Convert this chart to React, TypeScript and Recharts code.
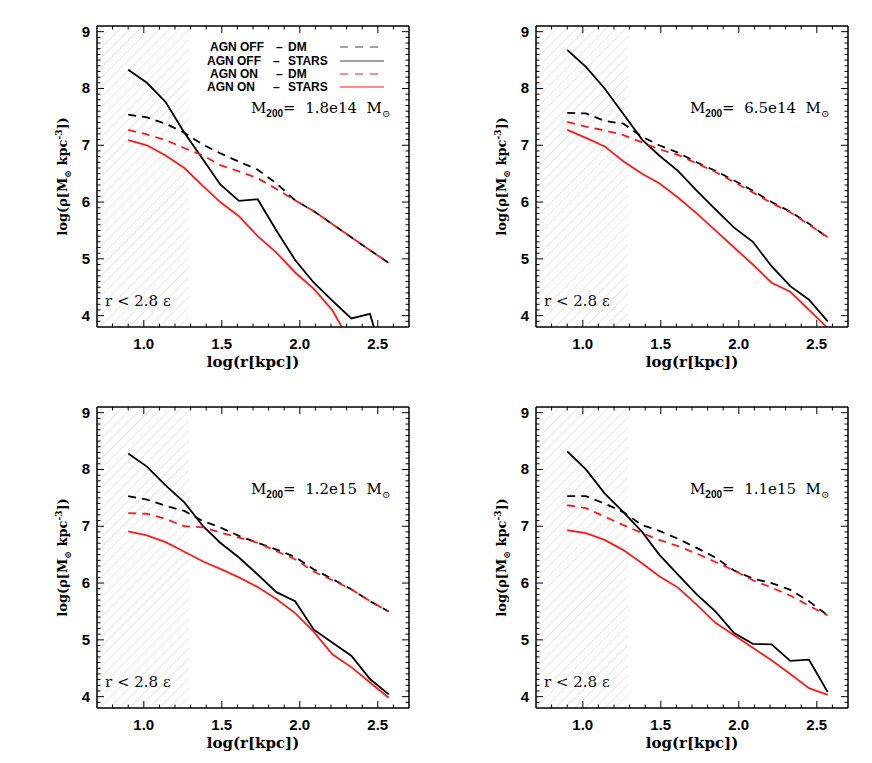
import React from "react";
import { LineChart, Line, XAxis, YAxis, ReferenceArea } from "recharts";

// log radius of the profile bins [log kpc]
const R = [0.9, 1.02, 1.14, 1.26, 1.38, 1.49, 1.61, 1.73, 1.85, 1.97, 2.09, 2.21, 2.33, 2.45, 2.57];

const MASSES = ["1.8e14", "6.5e14", "1.2e15", "1.1e15"];

// AGN OFF - DM
const OFF_DM_1 = [7.54, 7.49, 7.38, 7.22, 7.01, 6.86, 6.71, 6.57, 6.33, 6.03, 5.84, 5.61, 5.38, 5.15, 4.93];
const OFF_DM_2 = [7.57, 7.56, 7.43, 7.38, 7.15, 7.0, 6.87, 6.7, 6.55, 6.38, 6.2, 6.0, 5.83, 5.62, 5.37];
const OFF_DM_3 = [7.53, 7.47, 7.36, 7.27, 7.09, 6.98, 6.83, 6.71, 6.59, 6.46, 6.24, 6.07, 5.89, 5.68, 5.5];
const OFF_DM_4 = [7.53, 7.53, 7.4, 7.25, 7.02, 6.92, 6.78, 6.62, 6.45, 6.22, 6.08, 6.0, 5.88, 5.68, 5.43];

// AGN OFF - STARS
const OFF_STARS_1 = [8.33, 8.1, 7.76, 7.22, 6.75, 6.31, 6.02, 6.05, 5.5, 4.98, 4.58, 4.26, 3.95, 4.03, 2.9];
const OFF_STARS_2 = [8.68, 8.38, 8.0, 7.55, 7.1, 6.82, 6.55, 6.2, 5.87, 5.55, 5.3, 4.87, 4.52, 4.28, 3.9];
const OFF_STARS_3 = [8.28, 8.05, 7.72, 7.42, 7.0, 6.71, 6.45, 6.15, 5.84, 5.68, 5.18, 4.95, 4.72, 4.31, 4.04];
const OFF_STARS_4 = [8.32, 8.0, 7.58, 7.25, 6.9, 6.5, 6.15, 5.8, 5.5, 5.12, 4.93, 4.92, 4.63, 4.65, 4.08];

// AGN ON - DM
const ON_DM_1 = [7.27, 7.19, 7.09, 6.95, 6.82, 6.65, 6.54, 6.42, 6.23, 6.03, 5.84, 5.61, 5.38, 5.15, 4.93];
const ON_DM_2 = [7.41, 7.33, 7.26, 7.18, 7.05, 6.93, 6.83, 6.68, 6.53, 6.35, 6.17, 5.98, 5.82, 5.6, 5.38];
const ON_DM_3 = [7.23, 7.22, 7.13, 7.0, 6.98, 6.89, 6.8, 6.71, 6.56, 6.42, 6.2, 6.05, 5.89, 5.68, 5.5];
const ON_DM_4 = [7.37, 7.32, 7.17, 7.02, 6.88, 6.76, 6.65, 6.52, 6.37, 6.22, 6.05, 5.92, 5.78, 5.6, 5.43];

// AGN ON - STARS
const ON_STARS_1 = [7.09, 7.0, 6.82, 6.6, 6.28, 6.0, 5.75, 5.4, 5.11, 4.76, 4.47, 4.09, 3.5, 3.0, 2.6];
const ON_STARS_2 = [7.27, 7.13, 6.98, 6.72, 6.5, 6.33, 6.08, 5.8, 5.5, 5.2, 4.9, 4.58, 4.42, 4.1, 3.78];
const ON_STARS_3 = [6.91, 6.84, 6.72, 6.55, 6.38, 6.25, 6.1, 5.93, 5.72, 5.47, 5.14, 4.74, 4.52, 4.25, 3.98];
const ON_STARS_4 = [6.93, 6.88, 6.76, 6.58, 6.35, 6.12, 5.92, 5.62, 5.3, 5.08, 4.86, 4.64, 4.4, 4.15, 4.03];

const X_TICKS = [0.8, 0.9, 1.0, 1.1, 1.2, 1.3, 1.4, 1.5, 1.6, 1.7, 1.8, 1.9, 2.0, 2.1, 2.2, 2.3, 2.4, 2.5, 2.6];
const X_LABELS = ["1.0", "1.5", "2.0", "2.5"];
const Y_TICKS = [
  3.9, 4.0, 4.1, 4.2, 4.3, 4.4, 4.5, 4.6, 4.7, 4.8, 4.9, 5.0, 5.1, 5.2, 5.3, 5.4, 5.5, 5.6, 5.7, 5.8, 5.9,
  6.0, 6.1, 6.2, 6.3, 6.4, 6.5, 6.6, 6.7, 6.8, 6.9, 7.0, 7.1, 7.2, 7.3, 7.4, 7.5, 7.6, 7.7, 7.8, 7.9,
  8.0, 8.1, 8.2, 8.3, 8.4, 8.5, 8.6, 8.7, 8.8, 8.9, 9.0,
];
const Y_LABELS = ["4", "5", "6", "7", "8", "9"];

const X_DOMAIN = [0.7, 2.7];
const Y_DOMAIN = [3.8, 9.1];
const SOFTENING_EDGE = 1.29; // r < 2.8 eps

const RED = "#ff1a1a";
const SANS = "'Liberation Sans', Arial, sans-serif";
const SERIF = "'DejaVu Serif', serif";

const W = 436;
const PLOT_W = 312;
const PLOT_H = 301;

const fmtX = (v: number) => v.toFixed(1);
const fmtY = (v: number) => String(Math.round(v));
const isMajorY = (v: number) => Math.abs(v - Math.round(v)) < 1e-6;

function BottomTick(props: any) {
  const { x, y, payload } = props;
  const label = fmtX(payload.value);
  const major = X_LABELS.includes(label);
  return (
    <g>
      <line x1={x} x2={x} y1={y} y2={y - (major ? 7 : 3.5)} stroke="#000" strokeWidth={1} />
      {major && (
        <text x={x} y={y + 22} textAnchor="middle" fontFamily={SANS} fontWeight="bold" fontSize={15} fill="#000">
          {label}
        </text>
      )}
    </g>
  );
}

function TopTick(props: any) {
  const { x, y, payload } = props;
  const major = X_LABELS.includes(fmtX(payload.value));
  return <line x1={x} x2={x} y1={y} y2={y + (major ? 7 : 3.5)} stroke="#000" strokeWidth={1} />;
}

function LeftTick(props: any) {
  const { x, y, payload } = props;
  const v = payload.value;
  const major = isMajorY(v);
  return (
    <g>
      <line x1={x} x2={x + (major ? 7 : 3.5)} y1={y} y2={y} stroke="#000" strokeWidth={1} />
      {major && Y_LABELS.includes(fmtY(v)) && (
        <text x={x - 7} y={y + 5} textAnchor="end" fontFamily={SANS} fontWeight="bold" fontSize={15} fill="#000">
          {fmtY(v)}
        </text>
      )}
    </g>
  );
}

function RightTick(props: any) {
  const { x, y, payload } = props;
  const major = isMajorY(payload.value);
  return <line x1={x} x2={x - (major ? 7 : 3.5)} y1={y} y2={y} stroke="#000" strokeWidth={1} />;
}

interface PanelProps {
  idx: number;
  mass: string;
  offDm: number[];
  offStars: number[];
  onDm: number[];
  onStars: number[];
  left: number;
  top: number;
  marginLeft: number;
  legend?: boolean;
}

function Panel({ idx, mass, offDm, offStars, onDm, onStars, left, top, marginLeft, legend }: PanelProps) {
  const data = R.map((r, i) => ({
    r,
    offDm: offDm[i],
    offStars: offStars[i],
    onDm: onDm[i],
    onStars: onStars[i],
  }));
  const mTop = 26;
  const H = mTop + PLOT_H + 55;
  const plotL = marginLeft;
  const plotR = marginLeft + PLOT_W;
  const plotB = mTop + PLOT_H;
  const cx = (plotL + plotR) / 2;
  const cy = mTop + PLOT_H / 2;
  const hatchId = `hatch-${idx}`;
  const axisLine = { stroke: "#000", strokeWidth: 1.5 };
  // each axis takes 1px of room, so the margins are one pixel short of the frame
  const margin = { top: mTop - 1, right: W - plotR - 1, bottom: H - plotB - 1, left: plotL - 1 };

  return (
    <div style={{ position: "absolute", left, top }}>
      <LineChart width={W} height={H} data={data} margin={margin}>
        <defs>
          <pattern id={hatchId} patternUnits="userSpaceOnUse" width={7} height={7} patternTransform="rotate(45)">
            <line x1={0} y1={0} x2={0} y2={7} stroke="#cfcfcf" strokeWidth={1} />
          </pattern>
        </defs>
        <ReferenceArea
          x1={X_DOMAIN[0]}
          x2={SOFTENING_EDGE}
          y1={Y_DOMAIN[0]}
          y2={Y_DOMAIN[1]}
          fill={`url(#${hatchId})`}
          fillOpacity={1}
          stroke="none"
        />
        <XAxis
          type="number"
          dataKey="r"
          domain={X_DOMAIN}
          allowDataOverflow
          ticks={X_TICKS}
          interval={0}
          height={1}
          tickSize={0}
          tickMargin={0}
          tickLine={false}
          axisLine={axisLine}
          tick={BottomTick}
        />
        <XAxis
          xAxisId="top"
          orientation="top"
          type="number"
          dataKey="r"
          domain={X_DOMAIN}
          allowDataOverflow
          ticks={X_TICKS}
          interval={0}
          height={1}
          tickSize={0}
          tickMargin={0}
          tickLine={false}
          axisLine={axisLine}
          tick={TopTick}
        />
        <YAxis
          type="number"
          domain={Y_DOMAIN}
          allowDataOverflow
          ticks={Y_TICKS}
          interval={0}
          width={1}
          tickSize={0}
          tickMargin={0}
          tickLine={false}
          axisLine={axisLine}
          tick={LeftTick}
        />
        <YAxis
          yAxisId="right"
          orientation="right"
          type="number"
          domain={Y_DOMAIN}
          allowDataOverflow
          ticks={Y_TICKS}
          interval={0}
          width={1}
          tickSize={0}
          tickMargin={0}
          tickLine={false}
          axisLine={axisLine}
          tick={RightTick}
        />
        <Line type="linear" dataKey="offDm" stroke="#000" strokeWidth={1.8} strokeDasharray="8 6" dot={false} isAnimationActive={false} />
        <Line type="linear" dataKey="offStars" stroke="#000" strokeWidth={1.8} dot={false} isAnimationActive={false} />
        <Line type="linear" dataKey="onDm" stroke={RED} strokeWidth={1.8} strokeDasharray="8 6" dot={false} isAnimationActive={false} />
        <Line type="linear" dataKey="onStars" stroke={RED} strokeWidth={1.8} dot={false} isAnimationActive={false} />

        {/* axis titles */}
        <text x={cx} y={plotB + 40} textAnchor="middle" fontFamily={SERIF} fontWeight="bold" fontSize={15} fill="#000">
          log(r[kpc])
        </text>
        <text
          transform={`translate(${plotL - 30},${cy}) rotate(-90)`}
          textAnchor="middle"
          fontFamily={SERIF}
          fontWeight="bold"
          fontSize={13}
          fill="#000"
        >
          log(ρ[M
          <tspan dy={4} fontSize={9}>⊙</tspan>
          <tspan dy={-4}> kpc</tspan>
          <tspan dy={-5} fontSize={9}>-3</tspan>
          <tspan dy={5}>])</tspan>
        </text>

        {/* softening region */}
        <text x={plotL + 8} y={plotB - 21} fontFamily={SERIF} fontSize={15} fill="#000" style={{ whiteSpace: "pre" }}>
          {"r < 2.8 ε"}
        </text>

        {/* halo mass */}
        <text x={plotL + 154} y={mTop + 87} fontFamily={SERIF} fontSize={15} fill="#000" style={{ whiteSpace: "pre" }}>
          M
          <tspan dy={4} fontSize={10} fontFamily={SANS} fontWeight="bold">200</tspan>
          <tspan dy={-4}>{`=  ${mass}  M`}</tspan>
          <tspan dy={4} fontSize={10}>⊙</tspan>
        </text>

        {legend && (
          <g fontFamily={SANS} fontWeight="bold" fontSize={12} fill="#000">
            <text x={210} y={51}>AGN OFF</text>
            <text x={276} y={51}>–</text>
            <text x={288} y={51}>DM</text>
            <line x1={340} x2={384} y1={47} y2={47} stroke="#444" strokeWidth={1.2} strokeDasharray="8 7" />
            <text x={207} y={65}>AGN OFF</text>
            <text x={273} y={65}>–</text>
            <text x={288} y={65}>STARS</text>
            <line x1={340} x2={384} y1={61} y2={61} stroke="#444" strokeWidth={1.2} />
            <text x={210} y={78}>AGN ON</text>
            <text x={276} y={78}>–</text>
            <text x={288} y={78}>DM</text>
            <line x1={340} x2={384} y1={74} y2={74} stroke={RED} strokeWidth={1.2} strokeDasharray="8 7" />
            <text x={207} y={91}>AGN ON</text>
            <text x={273} y={91}>–</text>
            <text x={288} y={91}>STARS</text>
            <line x1={340} x2={384} y1={87} y2={87} stroke={RED} strokeWidth={1.2} />
          </g>
        )}
      </LineChart>
    </div>
  );
}

export default function App() {
  return (
    <div style={{ position: "absolute", left: 0, top: 0, width: 872, height: 763, background: "#fff", overflow: "hidden" }}>
      <Panel idx={1} mass={MASSES[0]} offDm={OFF_DM_1} offStars={OFF_STARS_1} onDm={ON_DM_1} onStars={ON_STARS_1} left={0} top={0} marginLeft={97} legend />
      <Panel idx={2} mass={MASSES[1]} offDm={OFF_DM_2} offStars={OFF_STARS_2} onDm={ON_DM_2} onStars={ON_STARS_2} left={436} top={0} marginLeft={100} />
      <Panel idx={3} mass={MASSES[2]} offDm={OFF_DM_3} offStars={OFF_STARS_3} onDm={ON_DM_3} onStars={ON_STARS_3} left={0} top={381} marginLeft={97} />
      <Panel idx={4} mass={MASSES[3]} offDm={OFF_DM_4} offStars={OFF_STARS_4} onDm={ON_DM_4} onStars={ON_STARS_4} left={436} top={381} marginLeft={100} />
    </div>
  );
}
